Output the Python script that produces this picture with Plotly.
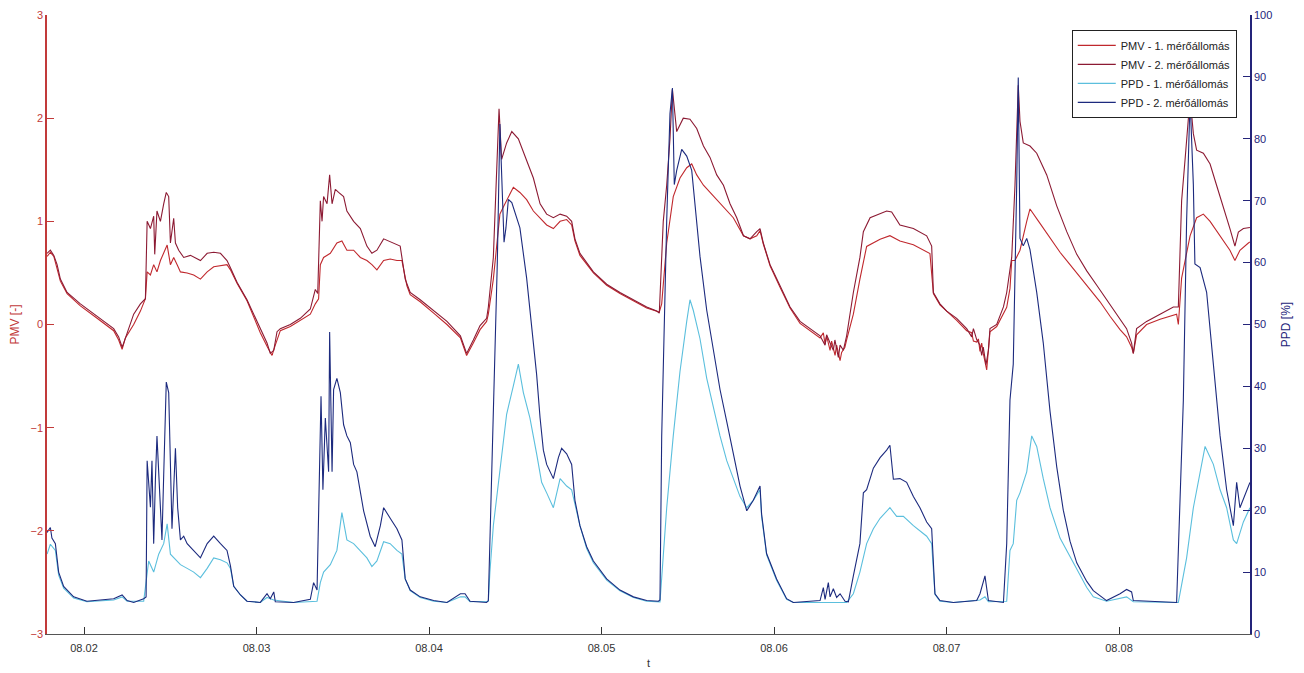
import plotly.graph_objects as go

# Time axis: day of August (fractional), e.g. 2.5 = 08.02 12:00
# ---------------- PMV, station 1 ----------------
pmv1_t = [1.786, 1.805, 1.825, 1.844, 1.863, 1.902, 1.979, 2.076, 2.172, 2.201, 2.221, 2.240,
          2.288, 2.327, 2.356, 2.366, 2.385, 2.404, 2.423, 2.443, 2.462, 2.482, 2.501, 2.520,
          2.540, 2.559, 2.598, 2.636, 2.675, 2.714, 2.752, 2.791, 2.829, 2.849, 2.887, 2.945,
          2.984, 3.022, 3.061, 3.090, 3.109, 3.138, 3.196, 3.254, 3.312, 3.341, 3.360, 3.370,
          3.389, 3.428, 3.466, 3.495, 3.524, 3.563, 3.602, 3.640, 3.669, 3.698, 3.737, 3.775,
          3.814, 3.843, 3.872, 3.891, 3.949, 4.027, 4.104, 4.182, 4.218, 4.257, 4.296, 4.334,
          4.344, 4.373, 4.392, 4.411, 4.431, 4.460, 4.489, 4.527, 4.566, 4.605, 4.644, 4.682,
          4.721, 4.760, 4.798, 4.827, 4.846, 4.875, 4.953, 5.030, 5.107, 5.185, 5.262, 5.335,
          5.349, 5.378, 5.397, 5.416, 5.455, 5.494, 5.523, 5.552, 5.591, 5.649, 5.707, 5.764,
          5.823, 5.861, 5.900, 5.919, 5.938, 5.977, 6.035, 6.093, 6.151, 6.209, 6.267, 6.286,
          6.296, 6.305, 6.325, 6.334, 6.354, 6.363, 6.383, 6.392, 6.411, 6.421, 6.460, 6.498,
          6.537, 6.615, 6.672, 6.730, 6.808, 6.904, 6.924, 6.962, 7.059, 7.117, 7.146, 7.156,
          7.175, 7.185, 7.194, 7.204, 7.213, 7.233, 7.243, 7.252, 7.291, 7.330, 7.349, 7.368,
          7.378, 7.397, 7.426, 7.465, 7.484, 7.542, 7.600, 7.658, 7.716, 7.774, 7.832, 7.890,
          7.948, 8.006, 8.044, 8.073, 8.083, 8.102, 8.160, 8.238, 8.334, 8.344, 8.363, 8.412,
          8.450, 8.489, 8.528, 8.586, 8.643, 8.672, 8.701, 8.750, 8.759]
pmv1_v = [0.66, 0.70, 0.66, 0.55, 0.42, 0.30, 0.18, 0.06, -0.06, -0.15, -0.24, -0.13,
          0.00, 0.13, 0.25, 0.51, 0.48, 0.58, 0.51, 0.62, 0.69, 0.77, 0.58, 0.65,
          0.58, 0.51, 0.50, 0.48, 0.44, 0.51, 0.56, 0.57, 0.58, 0.53, 0.40, 0.23,
          0.08, -0.08, -0.21, -0.30, -0.20, -0.06, -0.02, 0.04, 0.10, 0.20, 0.25, 0.58,
          0.65, 0.69, 0.79, 0.81, 0.72, 0.72, 0.65, 0.62, 0.58, 0.53, 0.62, 0.635,
          0.62, 0.62, 0.375, 0.29, 0.22, 0.11, 0.00, -0.13, -0.30, -0.18, -0.05, 0.03,
          0.10, 0.44, 0.79, 1.07, 1.14, 1.24, 1.33, 1.28, 1.21, 1.10, 1.035, 0.965,
          0.93, 1.00, 1.017, 0.965, 0.81, 0.67, 0.50, 0.38, 0.30, 0.23, 0.16, 0.12,
          0.20, 0.79, 1.035, 1.24, 1.42, 1.52, 1.556, 1.45, 1.35, 1.243, 1.139, 1.035,
          0.86, 0.83, 0.86, 0.91, 0.78, 0.57, 0.36, 0.16, 0.01, -0.06, -0.13, -0.08,
          -0.19, -0.11, -0.25, -0.16, -0.30, -0.20, -0.35, -0.27, -0.22, -0.15, 0.10, 0.44,
          0.757, 0.826, 0.861, 0.809, 0.774, 0.688, 0.30, 0.19, 0.04, -0.06, -0.08, -0.16,
          -0.17, -0.14, -0.26, -0.18, -0.28, -0.44, -0.20, -0.07, -0.02, 0.097, 0.167, 0.35,
          0.62, 0.62, 0.72, 1.00, 1.12, 0.98, 0.84, 0.70, 0.58, 0.46, 0.34, 0.22,
          0.08, -0.05, -0.12, -0.22, -0.28, -0.10, 0.00, 0.05, 0.10, 0.00, 0.45, 0.86,
          1.035, 1.07, 1.00, 0.86, 0.72, 0.62, 0.72, 0.79, 0.80]

# ---------------- PMV, station 2 ----------------
pmv2_t = [1.786, 1.805, 1.825, 1.844, 1.863, 1.902, 1.979, 2.076, 2.172, 2.201, 2.221, 2.230,
          2.259, 2.288, 2.327, 2.356, 2.366, 2.385, 2.404, 2.410, 2.423, 2.443, 2.462, 2.477,
          2.491, 2.501, 2.520, 2.530, 2.549, 2.578, 2.617, 2.675, 2.714, 2.752, 2.791, 2.829,
          2.849, 2.887, 2.945, 2.984, 3.022, 3.061, 3.080, 3.100, 3.119, 3.138, 3.196, 3.254,
          3.312, 3.341, 3.355, 3.370, 3.380, 3.389, 3.409, 3.424, 3.438, 3.457, 3.476, 3.505,
          3.524, 3.563, 3.602, 3.640, 3.669, 3.698, 3.737, 3.795, 3.833, 3.862, 3.891, 3.949,
          4.027, 4.104, 4.182, 4.218, 4.257, 4.296, 4.334, 4.344, 4.373, 4.392, 4.406, 4.421,
          4.450, 4.480, 4.518, 4.566, 4.605, 4.644, 4.682, 4.721, 4.760, 4.798, 4.827, 4.846,
          4.875, 4.953, 5.030, 5.107, 5.185, 5.262, 5.320, 5.335, 5.358, 5.378, 5.397, 5.411,
          5.436, 5.474, 5.513, 5.552, 5.591, 5.629, 5.668, 5.707, 5.745, 5.784, 5.823, 5.861,
          5.900, 5.919, 5.938, 5.977, 6.035, 6.093, 6.151, 6.209, 6.267, 6.296, 6.305, 6.325,
          6.344, 6.353, 6.373, 6.383, 6.402, 6.421, 6.460, 6.498, 6.518, 6.557, 6.615, 6.653,
          6.682, 6.730, 6.808, 6.885, 6.914, 6.924, 6.962, 7.001, 7.059, 7.117, 7.146, 7.156,
          7.175, 7.194, 7.204, 7.213, 7.229, 7.243, 7.252, 7.291, 7.330, 7.349, 7.378, 7.397,
          7.416, 7.426, 7.445, 7.484, 7.523, 7.581, 7.639, 7.697, 7.755, 7.813, 7.871, 7.928,
          7.986, 8.044, 8.073, 8.083, 8.102, 8.160, 8.238, 8.315, 8.344, 8.363, 8.383, 8.412,
          8.431, 8.450, 8.489, 8.528, 8.566, 8.605, 8.643, 8.672, 8.692, 8.721, 8.759]
pmv2_v = [0.69, 0.72, 0.67, 0.58, 0.44, 0.31, 0.20, 0.08, -0.04, -0.12, -0.22, -0.18,
          -0.05, 0.10, 0.20, 0.25, 1.00, 0.93, 1.05, 0.68, 1.10, 1.00, 1.17, 1.28,
          1.24, 0.79, 1.03, 0.79, 0.72, 0.65, 0.67, 0.62, 0.69, 0.70, 0.69, 0.62,
          0.55, 0.41, 0.24, 0.10, -0.05, -0.18, -0.28, -0.25, -0.07, -0.04, 0.00, 0.06,
          0.15, 0.34, 0.30, 1.20, 1.00, 1.24, 1.17, 1.45, 1.17, 1.31, 1.28, 1.24,
          1.10, 1.00, 0.93, 0.76, 0.69, 0.72, 0.83, 0.79, 0.76, 0.44, 0.31, 0.24,
          0.13, 0.03, -0.11, -0.28, -0.15, -0.01, 0.06, 0.17, 0.65, 1.42, 2.09, 1.60,
          1.76, 1.87, 1.80, 1.59, 1.42, 1.17, 1.07, 1.035, 1.07, 1.05, 1.00, 0.83,
          0.69, 0.51, 0.39, 0.31, 0.24, 0.17, 0.13, 0.11, 1.00, 1.35, 1.80, 2.28,
          1.87, 2.00, 1.99, 1.90, 1.73, 1.62, 1.45, 1.35, 1.17, 1.035, 0.86, 0.83,
          0.90, 0.93, 0.79, 0.58, 0.375, 0.17, 0.03, -0.04, -0.11, -0.20, -0.10, -0.18,
          -0.25, -0.15, -0.32, -0.20, -0.25, -0.11, 0.31, 0.65, 0.90, 1.035, 1.07, 1.10,
          1.09, 0.965, 0.93, 0.86, 0.76, 0.31, 0.20, 0.13, 0.06, -0.04, -0.12, -0.04,
          -0.146, -0.20, -0.30, -0.22, -0.39, -0.25, -0.04, 0.00, 0.17, 0.31, 0.65, 1.35,
          2.32, 1.97, 1.76, 1.73, 1.66, 1.45, 1.15, 0.90, 0.68, 0.52, 0.38, 0.24,
          0.10, -0.04, -0.18, -0.28, -0.04, 0.03, 0.10, 0.17, 0.17, 1.20, 1.60, 2.20,
          1.85, 1.69, 1.66, 1.556, 1.347, 1.14, 0.93, 0.76, 0.896, 0.931, 0.94]

# ---------------- PPD, station 1 ----------------
ppd1_t = [1.786, 1.805, 1.834, 1.853, 1.882, 1.940, 2.017, 2.172, 2.221, 2.250, 2.346, 2.360,
          2.375, 2.404, 2.433, 2.462, 2.482, 2.501, 2.520, 2.559, 2.598, 2.636, 2.675, 2.714,
          2.752, 2.791, 2.829, 2.849, 2.868, 2.907, 2.945, 3.022, 3.061, 3.100, 3.215, 3.351,
          3.370, 3.389, 3.428, 3.466, 3.495, 3.524, 3.563, 3.602, 3.640, 3.669, 3.698, 3.737,
          3.775, 3.814, 3.843, 3.862, 3.891, 3.949, 4.027, 4.104, 4.182, 4.209, 4.238, 4.344,
          4.353, 4.373, 4.411, 4.450, 4.489, 4.518, 4.547, 4.585, 4.624, 4.653, 4.682, 4.721,
          4.760, 4.798, 4.827, 4.846, 4.875, 4.914, 4.953, 5.030, 5.107, 5.185, 5.262, 5.339,
          5.349, 5.378, 5.416, 5.455, 5.494, 5.513, 5.532, 5.571, 5.610, 5.649, 5.687, 5.726,
          5.764, 5.803, 5.842, 5.880, 5.919, 5.928, 5.957, 6.015, 6.073, 6.112, 6.421, 6.460,
          6.498, 6.537, 6.576, 6.615, 6.672, 6.711, 6.750, 6.808, 6.885, 6.914, 6.933, 6.962,
          7.040, 7.194, 7.223, 7.243, 7.349, 7.368, 7.387, 7.407, 7.426, 7.465, 7.494, 7.523,
          7.561, 7.600, 7.658, 7.736, 7.813, 7.851, 7.928, 8.044, 8.083, 8.344, 8.354, 8.392,
          8.431, 8.470, 8.499, 8.547, 8.586, 8.624, 8.663, 8.682, 8.721, 8.759]
ppd1_v = [12.9, 14.5, 13.5, 9.5, 7.4, 5.8, 5.2, 5.5, 6.0, 5.3, 5.3, 8.9,
          11.8, 10.0, 12.9, 14.6, 17.8, 12.9, 12.3, 11.2, 10.6, 10.0, 9.1, 10.6,
          12.3, 12.0, 11.5, 10.6, 7.7, 6.3, 5.3, 5.1, 5.9, 5.5, 5.1, 5.3,
          8.3, 10.0, 11.2, 13.5, 19.6, 15.2, 14.6, 13.5, 12.3, 10.9, 11.8, 14.9,
          14.6, 13.5, 12.9, 8.9, 7.0, 5.9, 5.3, 5.1, 6.0, 6.0, 5.2, 5.3,
          10.0, 17.5, 26.2, 35.5, 40.1, 43.6, 39.0, 34.9, 29.1, 24.5, 22.8, 20.4,
          25.1, 23.9, 23.3, 21.0, 17.5, 13.8, 11.5, 8.7, 7.0, 5.9, 5.3, 5.2,
          8.9, 20.4, 32.0, 42.4, 50.5, 54.0, 52.3, 47.7, 41.3, 36.7, 32.0, 28.0,
          25.1, 22.2, 20.4, 21.6, 23.3, 19.0, 12.8, 8.7, 5.6, 5.1, 5.1, 6.5,
          10.0, 14.6, 17.0, 18.7, 20.4, 19.0, 19.0, 17.5, 15.8, 14.6, 6.4, 5.3,
          5.1, 5.5, 6.0, 5.2, 5.3, 13.5, 14.6, 21.6, 22.8, 26.2, 32.0, 30.3,
          25.1, 20.4, 15.5, 11.5, 7.5, 6.0, 5.3, 6.0, 5.2, 5.1, 6.5, 12.3,
          20.4, 26.2, 30.3, 27.4, 23.3, 20.4, 15.2, 14.6, 18.1, 20.4]

# ---------------- PPD, station 2 ----------------
ppd2_t = [1.786, 1.805, 1.814, 1.834, 1.853, 1.882, 1.940, 2.017, 2.172, 2.221, 2.250, 2.288,
          2.346, 2.360, 2.366, 2.385, 2.394, 2.404, 2.414, 2.423, 2.443, 2.452, 2.462, 2.477,
          2.491, 2.510, 2.530, 2.543, 2.559, 2.578, 2.598, 2.636, 2.675, 2.714, 2.752, 2.791,
          2.829, 2.849, 2.868, 2.907, 2.945, 3.022, 3.061, 3.080, 3.100, 3.109, 3.215, 3.312,
          3.331, 3.351, 3.360, 3.374, 3.385, 3.399, 3.418, 3.424, 3.438, 3.447, 3.466, 3.486,
          3.505, 3.524, 3.544, 3.563, 3.582, 3.621, 3.659, 3.688, 3.718, 3.737, 3.775, 3.814,
          3.843, 3.862, 3.891, 3.949, 4.027, 4.104, 4.182, 4.209, 4.238, 4.334, 4.344, 4.363,
          4.383, 4.396, 4.411, 4.427, 4.435, 4.446, 4.460, 4.480, 4.499, 4.527, 4.566, 4.595,
          4.624, 4.644, 4.663, 4.682, 4.721, 4.750, 4.769, 4.798, 4.827, 4.846, 4.875, 4.914,
          4.953, 5.030, 5.107, 5.185, 5.262, 5.330, 5.339, 5.349, 5.362, 5.378, 5.397, 5.411,
          5.422, 5.436, 5.465, 5.494, 5.523, 5.542, 5.571, 5.610, 5.649, 5.687, 5.726, 5.764,
          5.803, 5.842, 5.880, 5.919, 5.928, 5.957, 6.015, 6.073, 6.112, 6.267, 6.286, 6.296,
          6.315, 6.325, 6.344, 6.363, 6.383, 6.412, 6.431, 6.460, 6.498, 6.518, 6.537, 6.576,
          6.615, 6.653, 6.672, 6.692, 6.730, 6.769, 6.808, 6.846, 6.885, 6.914, 6.933, 6.962,
          7.040, 7.175, 7.194, 7.223, 7.243, 7.330, 7.349, 7.368, 7.387, 7.407, 7.416, 7.426,
          7.445, 7.465, 7.484, 7.523, 7.561, 7.600, 7.639, 7.677, 7.716, 7.755, 7.813, 7.851,
          7.928, 8.006, 8.044, 8.073, 8.083, 8.334, 8.354, 8.373, 8.392, 8.402, 8.412, 8.431,
          8.440, 8.470, 8.508, 8.547, 8.586, 8.624, 8.663, 8.682, 8.701, 8.759]
ppd2_v = [16.4, 17.2, 15.5, 14.6, 10.0, 7.7, 6.0, 5.3, 5.7, 6.3, 5.4, 5.1,
          5.7, 6.0, 28.0, 20.5, 28.0, 14.6, 25.0, 32.0, 20.4, 15.2, 25.7, 40.7,
          39.0, 17.0, 30.0, 20.4, 15.2, 15.8, 14.6, 13.5, 12.3, 14.6, 15.8, 14.6,
          13.5, 11.0, 7.7, 6.3, 5.3, 5.1, 6.5, 5.7, 6.8, 5.2, 5.1, 5.6,
          8.3, 7.1, 20.0, 38.4, 23.3, 34.9, 26.2, 48.8, 26.2, 39.5, 41.3, 39.0,
          33.8, 32.0, 30.9, 27.4, 26.2, 19.9, 15.8, 14.1, 17.5, 20.4, 18.7, 17.0,
          15.2, 8.9, 7.1, 6.0, 5.4, 5.1, 6.5, 6.5, 5.3, 5.1, 5.4, 26.2,
          45.9, 60.0, 82.4, 69.0, 63.3, 65.6, 70.2, 69.7, 67.9, 65.6, 57.5, 49.4,
          41.9, 34.9, 29.7, 27.4, 25.1, 28.5, 30.0, 29.1, 27.4, 21.6, 17.5, 14.1,
          11.8, 8.9, 7.1, 6.0, 5.4, 5.3, 5.5, 32.0, 49.0, 66.8, 84.1, 88.2,
          72.6, 74.9, 78.3, 77.2, 74.9, 69.7, 61.0, 52.3, 45.9, 39.5, 34.3, 29.1,
          23.9, 19.9, 21.6, 23.9, 19.4, 13.0, 8.9, 5.7, 5.1, 5.4, 7.5, 5.6,
          8.3, 6.0, 7.3, 5.9, 6.5, 5.3, 5.2, 9.4, 14.6, 22.8, 23.3, 26.8,
          28.5, 29.7, 30.5, 25.0, 25.1, 24.5, 22.2, 20.4, 18.1, 17.0, 6.5, 5.4,
          5.1, 5.4, 6.5, 9.4, 5.4, 5.1, 14.6, 37.8, 43.6, 72.6, 89.9, 63.9,
          62.7, 63.9, 62.1, 55.2, 47.0, 36.0, 27.0, 20.0, 15.0, 11.5, 8.5, 7.0,
          5.4, 6.5, 7.2, 6.8, 5.4, 5.1, 20.4, 37.8, 66.8, 78.3, 86.4, 72.6,
          59.8, 59.2, 55.2, 43.6, 32.0, 23.3, 17.5, 24.5, 20.4, 24.5]

day_ticks = [2, 3, 4, 5, 6, 7, 8]
day_labels = ["08.02", "08.03", "08.04", "08.05", "08.06", "08.07", "08.08"]
pmv_ticks = [-3, -2, -1, 0, 1, 2, 3]
ppd_ticks = [0, 10, 20, 30, 40, 50, 60, 70, 80, 90, 100]

RED = "#c0282d"
MAROON = "#8c1a33"
CYAN = "#5bbfdd"
NAVY = "#1c2a7e"
AX_RED = "#c23a3a"
AX_NAVY = "#24247a"
FONT = "Liberation Sans, Arial, sans-serif"

fig = go.Figure()
fig.add_trace(go.Scatter(x=pmv1_t, y=pmv1_v, mode="lines", name="PMV - 1. mérőállomás",
                         line=dict(color=RED, width=1.1)))
fig.add_trace(go.Scatter(x=pmv2_t, y=pmv2_v, mode="lines", name="PMV - 2. mérőállomás",
                         line=dict(color=MAROON, width=1.1)))
fig.add_trace(go.Scatter(x=ppd1_t, y=ppd1_v, mode="lines", name="PPD - 1. mérőállomás",
                         line=dict(color=CYAN, width=1.1), yaxis="y2"))
fig.add_trace(go.Scatter(x=ppd2_t, y=ppd2_v, mode="lines", name="PPD - 2. mérőállomás",
                         line=dict(color=NAVY, width=1.1), yaxis="y2"))

fig.update_layout(
    width=1304, height=673,
    margin=dict(l=47, r=54, t=15, b=39),
    paper_bgcolor="white", plot_bgcolor="white",
    font=dict(family=FONT, size=11, color="#333333"),
    showlegend=True,
    legend=dict(x=0.989, y=0.976, xanchor="right", yanchor="top",
                bgcolor="white", bordercolor="#222222", borderwidth=1,
                font=dict(size=11, color="#222222"), tracegroupgap=0,
                itemwidth=38),
    xaxis=dict(range=[1.7855, 8.7594], tickvals=day_ticks, ticktext=day_labels,
               ticks="inside", ticklen=7, tickcolor="#333333", showgrid=False,
               zeroline=False, showline=True, linecolor="#555555", linewidth=1,
               ticklabelstandoff=4, automargin=False,
               title=dict(text="t", font=dict(size=11, color="#333333"), standoff=6),
               tickfont=dict(size=11, color="#333333")),
    yaxis=dict(range=[-3, 3], tickvals=pmv_ticks, ticks="inside", ticklen=7,
               tickcolor=AX_RED, showgrid=False, zeroline=False, showline=True,
               linecolor=AX_RED, linewidth=1.5, automargin=False,
               tickfont=dict(size=11, color=AX_RED),
               title=dict(text="PMV [-]", font=dict(size=12, color=AX_RED), standoff=8)),
    yaxis2=dict(range=[0, 100], tickvals=ppd_ticks, overlaying="y", side="right",
                ticks="inside", ticklen=7, tickcolor=AX_NAVY, showgrid=False,
                zeroline=False, showline=True, linecolor=AX_NAVY, linewidth=1.5,
                automargin=False,
                tickfont=dict(size=11, color=AX_NAVY),
                title=dict(text="PPD [%]", font=dict(size=12, color=AX_NAVY), standoff=10)),
)

fig.write_html("out.html")
